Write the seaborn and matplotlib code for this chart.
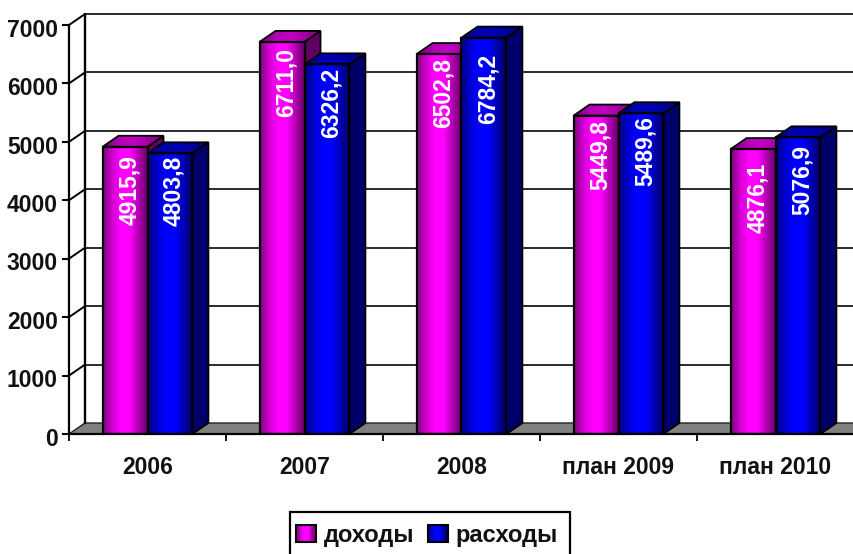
import numpy as np
import pandas as pd
import matplotlib
matplotlib.use("Agg")
import matplotlib.pyplot as plt
import seaborn as sns
from matplotlib import font_manager as fm
from matplotlib.colors import LinearSegmentedColormap
from matplotlib.legend_handler import HandlerBase
from matplotlib.patches import Polygon, Rectangle
from matplotlib.transforms import ScaledTranslation

years = ["2006", "2007", "2008", "план 2009", "план 2010"]
income = [4915.9, 6711.0, 6502.8, 5449.8, 4876.1]
expense = [4803.8, 6326.2, 6784.2, 5489.6, 5076.9]
income_labels = ["4915,9", "6711,0", "6502,8", "5449,8", "4876,1"]
expense_labels = ["4803,8", "6326,2", "6784,2", "5489,6", "5076,9"]
series_names = ["доходы", "расходы"]
y_ticks = [0, 1000, 2000, 3000, 4000, 5000, 6000, 7000]

# style: gap in pixels between the top of a bar and its rotated label
label_gaps = [[10, 8, 6, 7, 16], [4, 6, 18, 5, 10]]

W, H, DPI = 854, 554, 100
L, R, T, B = 69, 854, 25, 434
DX_PX, DY_PX = 16, 11
FONT = "Liberation Sans"

sns.set_theme(style="white")

fig = plt.figure(figsize=(W / DPI, H / DPI), dpi=DPI)
ax = fig.add_axes([L / W, 1 - B / H, (R - L) / W, (B - T) / H])

df = pd.DataFrame({
    "год": years * 2,
    "значение": income + expense,
    "серия": [series_names[0]] * 5 + [series_names[1]] * 5,
})
sns.barplot(data=df, x="год", y="значение", hue="серия", order=years,
            hue_order=series_names, palette=["#ff00ff", "#0000ff"],
            width=0.572, gap=0, dodge=True, legend=False, ax=ax)
ax.set_xlim(-0.5, 4.5)
ax.set_ylim(0, 7000)
ax.set_xlabel("")
ax.set_ylabel("")

px_x = 5 / (R - L)
px_y = 7000 / (B - T)
dx = DX_PX * px_x
dy = DY_PX * px_y

# back wall, floor and gridlines
for t in y_ticks:
    if t > 0:
        ax.plot([-0.5, -0.5 + dx], [t, t + dy], color="black", lw=1.4, clip_on=False, zorder=2)
        ax.plot([-0.5 + dx, 4.5], [t + dy, t + dy], color="#2a2a2a", lw=1.4, clip_on=False, zorder=2,
                solid_capstyle="butt")
ax.plot([-0.5 + dx, -0.5 + dx], [dy, 7000 + dy], color="black", lw=1.7, clip_on=False, zorder=2)
ax.add_patch(Polygon([(-0.5, 0), (-0.5 + dx, dy), (4.5, dy), (4.5, 0)], closed=True,
                     facecolor="#808080", edgecolor="#222222", lw=1.0, zorder=1.5))

front = {
    0: LinearSegmentedColormap.from_list("m", ["#7a0a7a", "#d000d0", "#ff00ff", "#ff00ff", "#b000b0", "#600060"]),
    1: LinearSegmentedColormap.from_list("b", ["#00007a", "#0000d0", "#0000ff", "#0000ff", "#0000b0", "#000060"]),
}
top = {
    0: LinearSegmentedColormap.from_list("mt", ["#700070", "#b000b0", "#c400c4", "#a000a0", "#700070"]),
    1: LinearSegmentedColormap.from_list("bt", ["#000070", "#0000a8", "#0000b4", "#000098", "#000070"]),
}
side = {0: "#620062", 1: "#00006a"}
ramp = np.linspace(0, 1, 256).reshape(1, -1)
all_labels = [income_labels, expense_labels]

for s, container in enumerate(ax.containers):
    for c, bar in enumerate(container.patches):
        x0, w, h = bar.get_x(), bar.get_width(), bar.get_height()
        z = 3 + c + s * 0.5
        im = ax.imshow(ramp, cmap=front[s], extent=[x0, x0 + w, 0, h], aspect="auto", zorder=z + 0.1)
        im.set_clip_path(Rectangle((x0, 0), w, h, transform=ax.transData))
        bar.set(facecolor="none", edgecolor="black", linewidth=1.6, zorder=z + 0.2)
        poly_top = Polygon([(x0, h), (x0 + dx, h + dy), (x0 + w + dx, h + dy), (x0 + w, h)], closed=True,
                           facecolor="none", edgecolor="black", lw=1.3, zorder=z + 0.2, clip_on=False)
        ax.add_patch(poly_top)
        im2 = ax.imshow(ramp, cmap=top[s], extent=[x0, x0 + w + dx, h, h + dy], aspect="auto",
                        zorder=z + 0.1)
        im2.set_clip_path(poly_top)
        ax.add_patch(Polygon([(x0 + w, 0), (x0 + w + dx, dy), (x0 + w + dx, h + dy), (x0 + w, h)], closed=True,
                             facecolor=side[s], edgecolor="black", lw=1.3, zorder=z + 0.05, clip_on=False))
        ax.annotate(all_labels[s][c], xy=(x0 + w / 2, h),
                    xytext=(3, -label_gaps[s][c] * 72 / DPI + 1.5), textcoords="offset points",
                    rotation=90, ha="center", va="top", color="white", fontweight="bold",
                    family=FONT, fontsize=16.5, zorder=z + 0.3)

ax.set_xlim(-0.5, 4.5)
ax.set_ylim(0, 7000)

for name, sp in ax.spines.items():
    sp.set_visible(name in ("left", "bottom"))
    sp.set_color("black")
    sp.set_linewidth(1.6)
    sp.set_zorder(20)

ax.set_yticks(y_ticks)
ax.set_yticklabels([str(t) for t in y_ticks], family=FONT, fontweight="bold", fontsize=16.5, color="#111111")
ax.set_xticks(range(5))
ax.set_xticklabels(years, family=FONT, fontweight="bold", fontsize=16.5, color="#111111")
ax.set_xticks(np.arange(-0.5, 5, 1), minor=True)
ax.tick_params(axis="y", which="major", left=True, length=5, width=1.5, color="black", pad=3)
ax.tick_params(axis="x", which="major", bottom=False, pad=10)
ax.tick_params(axis="x", which="minor", bottom=True, length=5, width=1.3, color="black")
for lab in ax.get_yticklabels():
    lab.set_transform(lab.get_transform() + ScaledTranslation(0, -2 / 72, fig.dpi_scale_trans))


class GradHandler(HandlerBase):
    def __init__(self, cmap):
        super().__init__()
        self.cmap = cmap

    def create_artists(self, legend, orig, xd, yd, width, height, fontsize, trans):
        arts = []
        n = 16
        for i in range(n):
            arts.append(Rectangle((-xd + width * i / n, -yd), width / n + 0.2, height,
                                  facecolor=self.cmap(i / (n - 1)), edgecolor="none", transform=trans))
        arts.append(Rectangle((-xd, -yd), width, height, facecolor="none", edgecolor="black", lw=1.5, transform=trans))
        return arts


h0, h1 = Rectangle((0, 0), 1, 1), Rectangle((0, 0), 1, 1)
fig.add_artist(Rectangle((290 / W, -6 / H), 280 / W, (554 - 512 + 6) / H, transform=fig.transFigure,
                         facecolor="white", edgecolor="black", lw=1.6, clip_on=False))
leg = fig.legend([h0, h1], series_names, handler_map={h0: GradHandler(front[0]), h1: GradHandler(front[1])},
                 loc="center", bbox_to_anchor=(427 / W, 1 - 535.5 / H), ncol=2, frameon=False,
                 prop=fm.FontProperties(family=FONT, weight="bold", size=17),
                 handlelength=0.85, handleheight=0.76, handletextpad=0.34, columnspacing=0.55, borderpad=0,
                 borderaxespad=0, labelcolor="#111111")
leg.set_zorder(30)

fig.savefig("out.png", dpi=DPI)
